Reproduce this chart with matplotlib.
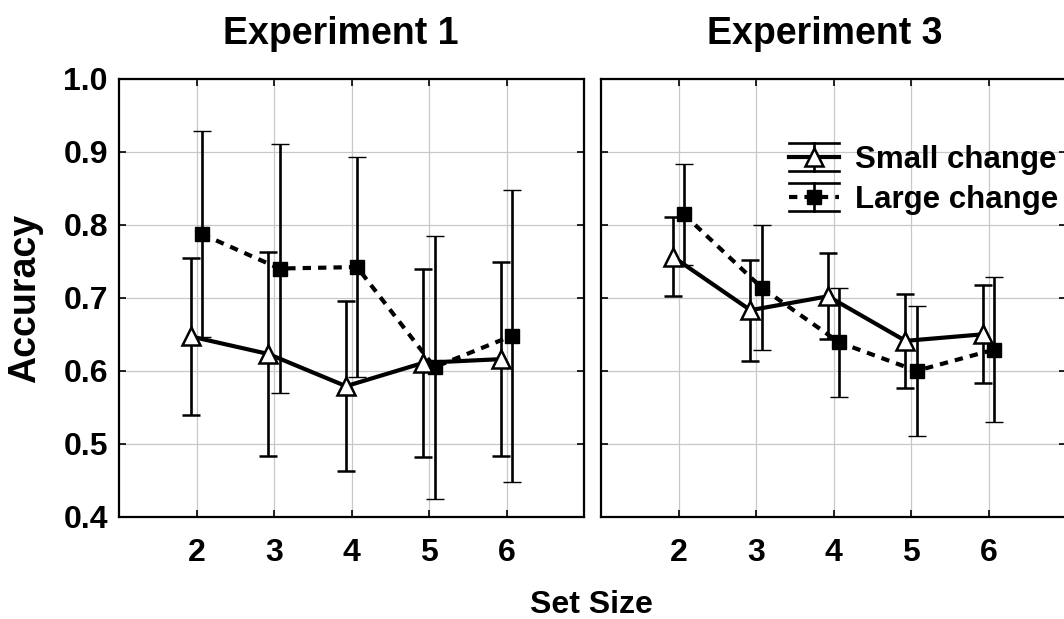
import matplotlib
matplotlib.use("Agg")
import matplotlib.pyplot as plt
from matplotlib.legend_handler import HandlerBase
from matplotlib.lines import Line2D

plt.rcParams['font.family'] = ['Liberation Sans', 'DejaVu Sans']
plt.rcParams['font.weight'] = 'bold'

set_sizes = [2, 3, 4, 5, 6]
titles = ["Experiment 1", "Experiment 3"]
series_labels = ["Small change", "Large change"]

# Experiment 1
exp1_small = [0.647, 0.623, 0.579, 0.611, 0.616]
exp1_small_err = [0.108, 0.140, 0.116, 0.129, 0.133]
exp1_large = [0.787, 0.740, 0.742, 0.605, 0.648]
exp1_large_err = [0.141, 0.171, 0.151, 0.180, 0.200]

# Experiment 3
exp3_small = [0.756, 0.683, 0.702, 0.641, 0.650]
exp3_small_err = [0.054, 0.069, 0.059, 0.064, 0.067]
exp3_large = [0.814, 0.714, 0.639, 0.600, 0.629]
exp3_large_err = [0.069, 0.085, 0.075, 0.089, 0.099]

yticks = [0.4, 0.5, 0.6, 0.7, 0.8, 0.9, 1.0]

W, H = 1064, 619
fig = plt.figure(figsize=(W / 100, H / 100), dpi=100)

ax_w = 465 / W
ax_h = (517 - 78.5) / H
ax_b = 1 - 517 / H
ax1 = fig.add_axes([119 / W, ax_b, ax_w, ax_h])
ax2 = fig.add_axes([601 / W, ax_b, ax_w, ax_h])

off = 0.071
small_style = dict(color='black', ls='-', lw=3.0, marker='^', ms=13.5,
                   mfc='white', mec='black', mew=1.8)
large_style = dict(color='black', ls=(0, (2.0, 1.7)), lw=3.0, marker='s', ms=10,
                   mfc='black', mec='black', mew=1.0)
err_kw = dict(elinewidth=1.9, capsize=6.5, capthick=1.9, ecolor='black')

data = [(exp1_small, exp1_small_err, exp1_large, exp1_large_err),
        (exp3_small, exp3_small_err, exp3_large, exp3_large_err)]

for ax, title, (s, se, l, le) in zip([ax1, ax2], titles, data):
    xs_s = [x - off for x in set_sizes]
    xs_l = [x + off for x in set_sizes]
    ax.errorbar(xs_l, l, yerr=le, **large_style, **err_kw, zorder=3)
    ax.errorbar(xs_s, s, yerr=se, **small_style, **err_kw, zorder=4)
    ax.set_xlim(1, 7)
    ax.set_ylim(0.4, 1.0)
    ax.set_xticks(set_sizes)
    ax.set_xticklabels([str(v) for v in set_sizes], fontsize=23, fontweight='bold')
    ax.set_yticks(yticks)
    ax.grid(True, color='#c8c8c8', lw=0.9)
    ax.set_axisbelow(True)
    for sp in ax.spines.values():
        sp.set_linewidth(1.6)
    ax.tick_params(direction='in', length=5, width=1.2, top=True, right=True)
    ax.tick_params(axis='x', pad=15)
    ax.tick_params(axis='y', pad=8)
    ax.text((341 - 119) / 465 if ax is ax1 else (825 - 601) / 465,
            1 + 34.5 / 438.5, title, transform=ax.transAxes, ha='center',
            va='baseline', fontsize=27, fontweight='bold')

ax1.set_yticklabels([f"{v:.1f}" for v in yticks], fontsize=23, fontweight='bold')
ax2.set_yticklabels([])

fig.text(25 / W, 1 - 298 / H, "Accuracy", rotation=90, ha='center', va='center',
         fontsize=27, fontweight='bold')
fig.text(591 / W, 1 - 613 / H, "Set Size", ha='center', va='baseline',
         fontsize=23, fontweight='bold')


class ErrHandler(HandlerBase):
    def __init__(self, style):
        super().__init__()
        self.style = style

    def create_artists(self, legend, orig_handle, xdescent, ydescent, width,
                       height, fontsize, trans):
        st = self.style
        x0 = -xdescent
        x1 = x0 + width
        cx = (x0 + x1) / 2
        cy = height / 2 - ydescent
        h = 10
        arts = [
            Line2D([cx, cx], [cy - h, cy + h], color='black', lw=1.9),
            Line2D([x0, x1], [cy + h, cy + h], color='black', lw=1.9),
            Line2D([x0, x1], [cy - h, cy - h], color='black', lw=1.9),
            Line2D([x0, x1], [cy, cy], color='black', ls=st['ls'], lw=st['lw']),
            Line2D([cx], [cy], ls='none', marker=st['marker'], ms=st['ms'],
                   mfc=st['mfc'], mec=st['mec'], mew=st['mew']),
        ]
        for a in arts:
            a.set_transform(trans)
        return arts


p_small = Line2D([], [])
p_large = Line2D([], [])
leg = ax2.legend([p_small, p_large], series_labels,
                 handler_map={p_small: ErrHandler(small_style),
                              p_large: ErrHandler(large_style)},
                 loc='center left', bbox_to_anchor=((789 - 601) / 465, (517 - 180) / 438.5),
                 frameon=False, borderpad=0, borderaxespad=0,
                 handlelength=1.6, handletextpad=0.5, labelspacing=0.3,
                 prop=dict(family=['Liberation Sans', 'DejaVu Sans'], weight='bold', size=22.5))

fig.savefig("out.png", dpi=100, facecolor='white')
